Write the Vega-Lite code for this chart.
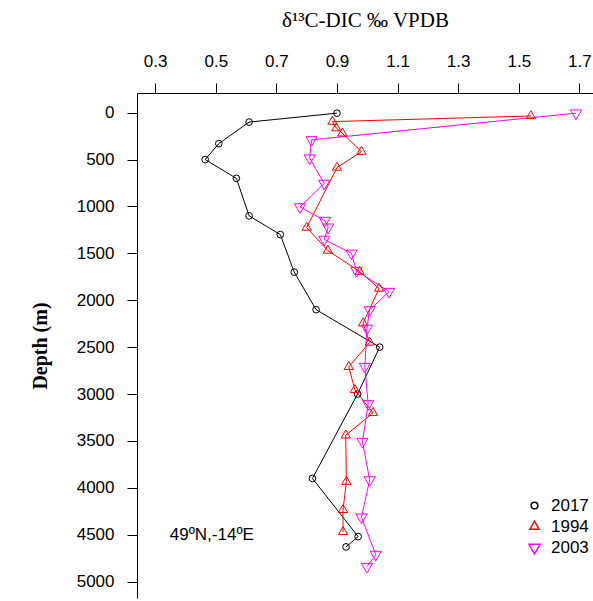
{
  "$schema": "https://vega.github.io/schema/vega-lite/v6.json",
  "autosize": "none",
  "width": 456,
  "height": 505,
  "padding": {"left": 137, "top": 93, "right": 0, "bottom": 3},
  "background": "white",
  "config": {
    "view": {"stroke": null},
    "axis": {
      "grid": false,
      "domainColor": "black",
      "domainWidth": 1,
      "tickColor": "black",
      "tickWidth": 1,
      "tickSize": 10,
      "labelFont": "Liberation Sans",
      "labelFontSize": 17,
      "labelColor": "black",
      "titleFont": "Liberation Serif",
      "titleFontSize": 20,
      "titleColor": "black"
    },
    "legend": {
      "labelFont": "Liberation Sans",
      "labelFontSize": 17,
      "labelColor": "black"
    }
  },
  "datasets": {
    "profiles": [
      {"year": "2017", "d13C": 0.90, "depth": 5},
      {"year": "2017", "d13C": 0.61, "depth": 100},
      {"year": "2017", "d13C": 0.51, "depth": 330},
      {"year": "2017", "d13C": 0.465, "depth": 500},
      {"year": "2017", "d13C": 0.568, "depth": 700},
      {"year": "2017", "d13C": 0.61, "depth": 1100},
      {"year": "2017", "d13C": 0.713, "depth": 1300},
      {"year": "2017", "d13C": 0.759, "depth": 1700},
      {"year": "2017", "d13C": 0.831, "depth": 2100},
      {"year": "2017", "d13C": 1.041, "depth": 2500},
      {"year": "2017", "d13C": 0.968, "depth": 3000},
      {"year": "2017", "d13C": 0.819, "depth": 3900},
      {"year": "2017", "d13C": 0.97, "depth": 4520},
      {"year": "2017", "d13C": 0.93, "depth": 4630},
      {"year": "1994", "d13C": 1.54, "depth": 35},
      {"year": "1994", "d13C": 0.885, "depth": 95},
      {"year": "1994", "d13C": 0.898, "depth": 165},
      {"year": "1994", "d13C": 0.918, "depth": 220},
      {"year": "1994", "d13C": 0.981, "depth": 415},
      {"year": "1994", "d13C": 0.90, "depth": 585},
      {"year": "1994", "d13C": 0.80, "depth": 1225},
      {"year": "1994", "d13C": 0.87, "depth": 1470},
      {"year": "1994", "d13C": 0.975, "depth": 1695},
      {"year": "1994", "d13C": 1.039, "depth": 1875},
      {"year": "1994", "d13C": 0.986, "depth": 2245},
      {"year": "1994", "d13C": 1.008, "depth": 2450},
      {"year": "1994", "d13C": 0.939, "depth": 2710},
      {"year": "1994", "d13C": 0.959, "depth": 2955},
      {"year": "1994", "d13C": 1.019, "depth": 3200},
      {"year": "1994", "d13C": 0.929, "depth": 3440},
      {"year": "1994", "d13C": 0.931, "depth": 3935},
      {"year": "1994", "d13C": 0.92, "depth": 4235},
      {"year": "1994", "d13C": 0.92, "depth": 4470},
      {"year": "2003", "d13C": 1.689, "depth": 5},
      {"year": "2003", "d13C": 0.816, "depth": 290},
      {"year": "2003", "d13C": 0.81, "depth": 485},
      {"year": "2003", "d13C": 0.858, "depth": 755},
      {"year": "2003", "d13C": 0.778, "depth": 1005},
      {"year": "2003", "d13C": 0.86, "depth": 1150},
      {"year": "2003", "d13C": 0.871, "depth": 1222},
      {"year": "2003", "d13C": 0.858, "depth": 1352},
      {"year": "2003", "d13C": 0.948, "depth": 1500},
      {"year": "2003", "d13C": 0.964, "depth": 1685},
      {"year": "2003", "d13C": 1.072, "depth": 1908},
      {"year": "2003", "d13C": 1.008, "depth": 2103},
      {"year": "2003", "d13C": 0.999, "depth": 2300},
      {"year": "2003", "d13C": 0.992, "depth": 2708},
      {"year": "2003", "d13C": 1.003, "depth": 3105},
      {"year": "2003", "d13C": 0.984, "depth": 3507},
      {"year": "2003", "d13C": 1.008, "depth": 3916},
      {"year": "2003", "d13C": 0.981, "depth": 4314},
      {"year": "2003", "d13C": 1.028, "depth": 4712},
      {"year": "2003", "d13C": 0.999, "depth": 4840}
    ],
    "site": [
      {"label": "49ºN,-14ºE", "d13C": 0.348, "depth": 4500}
    ]
  },
  "layer": [
    {
      "data": {"name": "profiles"},
      "mark": {"type": "line", "strokeWidth": 1},
      "encoding": {
        "x": {
          "field": "d13C", "type": "quantitative",
          "scale": {"domain": [0.24, 1.745], "nice": false, "zero": false},
          "axis": {
            "orient": "top",
            "title": "δ¹³C-DIC ‰ VPDB",
            "titleFontWeight": "normal",
            "titleFontSize": 21,
            "values": [0.3, 0.5, 0.7, 0.9, 1.1, 1.3, 1.5, 1.7],
            "format": ".1f",
            "labelPadding": 13,
            "titlePadding": 22
          }
        },
        "y": {
          "field": "depth", "type": "quantitative",
          "scale": {"domain": [-210, 5175], "nice": false, "zero": false, "reverse": true},
          "axis": {
            "orient": "left",
            "title": "Depth (m)",
            "titleFontWeight": "bold",
            "values": [0, 500, 1000, 1500, 2000, 2500, 3000, 3500, 4000, 4500, 5000],
            "format": "d",
            "labelPadding": 13,
            "titlePadding": 26
          }
        },
        "order": {"field": "depth", "type": "quantitative"},
        "color": {
          "field": "year", "type": "nominal",
          "scale": {"domain": ["2017", "1994", "2003"], "range": ["#000000", "#FF0000", "#FF00FF"]},
          "legend": {
            "title": null,
            "orient": "none",
            "legendX": 389,
            "legendY": 404,
            "rowPadding": 3,
            "labelOffset": 8
          }
        }
      }
    },
    {
      "data": {"name": "profiles"},
      "mark": {"type": "point", "filled": false, "strokeWidth": 1, "opacity": 1},
      "encoding": {
        "x": {"field": "d13C", "type": "quantitative"},
        "y": {"field": "depth", "type": "quantitative"},
        "color": {
          "field": "year", "type": "nominal",
          "legend": {
            "title": null,
            "orient": "none",
            "legendX": 389,
            "legendY": 404,
            "rowPadding": 3,
            "labelOffset": 8
          }
        },
        "shape": {
          "field": "year", "type": "nominal",
          "scale": {
            "domain": ["2017", "1994", "2003"],
            "range": ["circle", "M-1,0.58L1,0.58L0,-1.15Z", "M-1,-0.58L1,-0.58L0,1.15Z"]
          },
          "legend": {"title": null, "orient": "none", "legendX": 389, "legendY": 404}
        },
        "size": {
          "field": "year", "type": "nominal",
          "scale": {"domain": ["2017", "1994", "2003"], "range": [45, 125, 125]},
          "legend": {"title": null, "orient": "none", "legendX": 389, "legendY": 404}
        }
      }
    },
    {
      "data": {"name": "site"},
      "mark": {"type": "text", "align": "left", "baseline": "middle", "font": "Liberation Sans", "fontSize": 17, "color": "black"},
      "encoding": {
        "x": {"field": "d13C", "type": "quantitative"},
        "y": {"field": "depth", "type": "quantitative"},
        "text": {"field": "label"}
      }
    }
  ]
}
